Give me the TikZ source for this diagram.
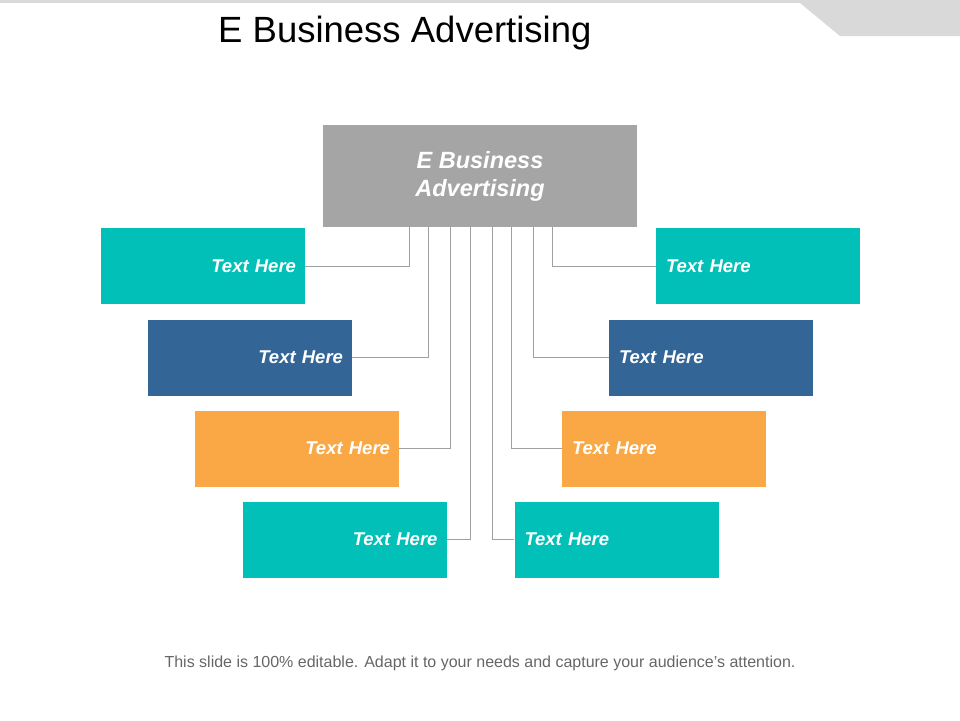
\documentclass[tikz,border=0pt]{standalone}
\usepackage{fontspec}
\setmainfont{Liberation Sans}
\definecolor{tl}{RGB}{0, 192, 184}
\definecolor{bl}{RGB}{51, 102, 150}
\definecolor{og}{RGB}{250, 168, 69}
\definecolor{gy}{RGB}{165, 165, 165}
\definecolor{ln}{RGB}{160, 160, 160}
\usetikzlibrary{positioning}
\tikzset{
  box/.style={minimum width=204pt, minimum height=76pt, inner sep=0pt, text=white, font=\bfseries\itshape\fontsize{18.5}{22}\selectfont},
  lbox/.style={box, align=right, text width=186pt},
  rbox/.style={box, align=left, text width=184pt},
  link/.style={line width=0.8pt, color=ln}
}
\begin{document}
\begin{tikzpicture}[x=1pt,y=1pt]
\useasboundingbox (0,0) rectangle (960,-720);
\fill[gray!30] (0,0) rectangle (960,-3);
\fill[gray!30] (800,-3) -- (840,-36) -- (960,-36) -- (960,-3) -- cycle;
\node (title) [anchor=west, inner sep=0pt, font=\fontsize{36.5}{40}\selectfont] at (218,-33) {E Business Advertising};
\node (top) [fill=gy, minimum width=314pt, minimum height=102pt, inner sep=0pt, align=center, text=white, font=\bfseries\itshape\fontsize{23.5}{28}\selectfont] at (480,-176) {E Business\\Advertising};
\node (l1) [lbox, fill=tl] at (203,-266) {Text Here};
\node (l2) [lbox, fill=bl] at (250,-357.5) {Text Here};
\node (l3) [lbox, fill=og] at (297,-448.5) {Text Here};
\node (l4) [lbox, fill=tl] at (344.5,-539.5) {Text Here};
\node (r1) [rbox, fill=tl] at (758,-266) {Text Here};
\node (r2) [rbox, fill=bl] at (711,-357.5) {Text Here};
\node (r3) [rbox, fill=og] at (664,-448.5) {Text Here};
\node (r4) [rbox, fill=tl] at (616.5,-539.5) {Text Here};
\draw[link] (top.south -| 409,0) |- (l1.east);
\draw[link] (top.south -| 428,0) |- (l2.east);
\draw[link] (top.south -| 450,0) |- (l3.east);
\draw[link] (top.south -| 470,0) |- (l4.east);
\draw[link] (top.south -| 552,0) |- (r1.west);
\draw[link] (top.south -| 533,0) |- (r2.west);
\draw[link] (top.south -| 511,0) |- (r3.west);
\draw[link] (top.south -| 492,0) |- (r4.west);
\node (note) [text=gray!80!black, font=\fontsize{16}{18}\selectfont] at (480,-663) {This slide is 100\% editable. Adapt it to your needs and capture your audience's attention.};
\end{tikzpicture}
\end{document}
